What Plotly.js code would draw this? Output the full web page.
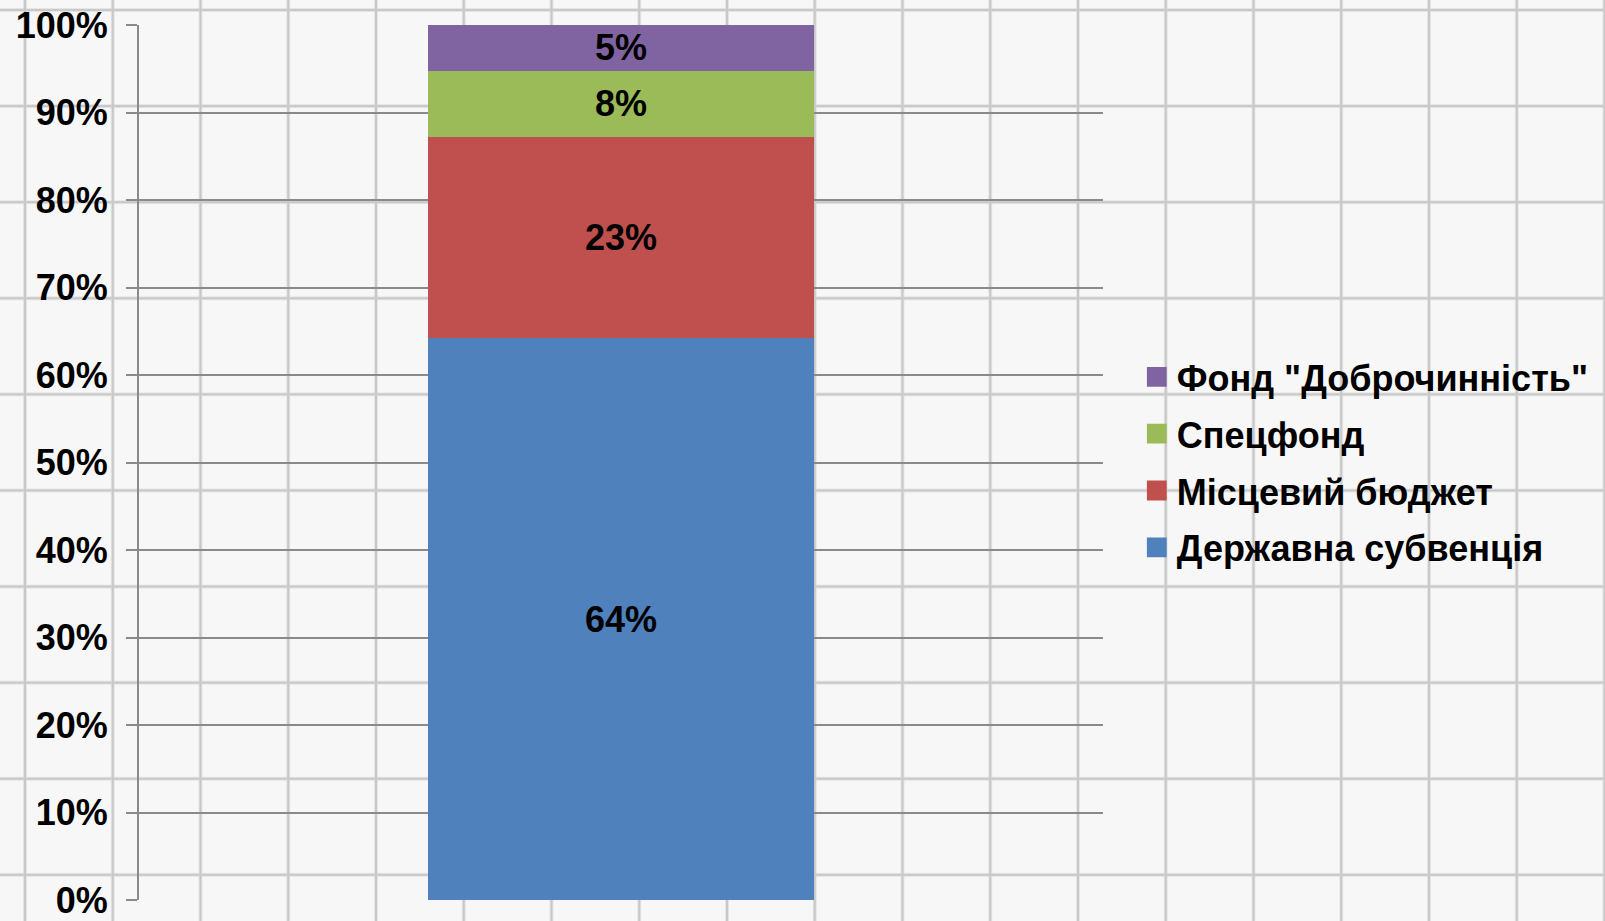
<!DOCTYPE html>
<html>
<head>
<meta charset="utf-8">
<script src="https://cdn.plot.ly/plotly-3.0.1.min.js"></script>
<style>
  html, body { margin: 0; padding: 0; }
  body {
    width: 1605px; height: 921px; overflow: hidden;
    background-color: #f7f7f7;
    background-image:
      linear-gradient(to right, rgba(0,0,0,0) 0px, #d4d4d4 1px, #bcbcbc 2px, #d4d4d4 3px, rgba(0,0,0,0) 4px, rgba(0,0,0,0) 100%),
      linear-gradient(to bottom, rgba(0,0,0,0) 0px, #d4d4d4 1px, #bcbcbc 2px, #d4d4d4 3px, rgba(0,0,0,0) 4px, rgba(0,0,0,0) 100%);
    background-size: 87.76px 100%, 100% 96.1px;
    background-position: 23px 0, 0 8px;
  }
  #chart { width: 1605px; height: 921px; }
</style>
</head>
<body>
<div id="chart"></div>
<script>
// ---- data ----
const category = ['Джерела фінансування'];
const seriesNames = ['Державна субвенція', 'Місцевий бюджет', 'Спецфонд', 'Фонд "Доброчинність"'];
const derzhavnaSubventsiya = [64.2];
const mistsevyiBudzhet = [23.0];
const spetsfond = [7.6];
const fondDobrochynnist = [5.2];
const seriesValues = [derzhavnaSubventsiya, mistsevyiBudzhet, spetsfond, fondDobrochynnist];
const seriesColors = ['#4F81BD', '#C0504D', '#9BBB59', '#8064A2'];
const yTickVals = [0, 10, 20, 30, 40, 50, 60, 70, 80, 90, 100];
const yTickText = ['0%', '10%', '20%', '30%', '40%', '50%', '60%', '70%', '80%', '90%', '100%'];

const FONT = 'Liberation Sans, Arial, Helvetica, sans-serif';

const traces = seriesNames.map((name, i) => ({
  type: 'bar',
  name: name,
  legendgroup: 'g' + i,
  legendrank: 1000 - i,
  x: category,
  y: seriesValues[i],
  marker: { color: seriesColors[i], line: { width: 0 } },
  texttemplate: '%{y:.0f}%',
  textposition: 'inside',
  insidetextanchor: 'middle',
  textangle: 0,
  constraintext: 'none',
  textfont: { family: FONT, size: 36, color: '#000000', weight: 'bold' },
  hoverinfo: 'name+y'
}));

const layout = {
  width: 1605,
  height: 921,
  margin: { l: 139, r: 501, t: 25, b: 21, pad: 0 },
  paper_bgcolor: 'rgba(0,0,0,0)',
  plot_bgcolor: 'rgba(0,0,0,0)',
  barmode: 'stack',
  bargap: 0.6,
  showlegend: true,
  legend: {
    x: 1.034, xanchor: 'left', xref: 'paper',
    y: 0.5, yanchor: 'middle',
    traceorder: 'grouped',
    tracegroupgap: 7,
    bgcolor: 'rgba(0,0,0,0)',
    borderwidth: 0,
    font: { family: FONT, size: 36, color: '#000000', weight: 'bold' }
  },
  xaxis: {
    type: 'category',
    showticklabels: false,
    showgrid: false,
    zeroline: false,
    showline: false,
    ticks: ''
  },
  yaxis: {
    range: [0, 100],
    tickmode: 'array',
    tickvals: yTickVals,
    ticktext: yTickText,
    showgrid: true,
    gridcolor: '#8a8a8a',
    gridwidth: 2,
    zeroline: false,
    showline: true,
    linecolor: '#8a8a8a',
    linewidth: 2,
    ticks: 'outside',
    ticklen: 11,
    tickwidth: 2,
    tickcolor: '#8a8a8a',
    ticklabelstandoff: 11,
    tickfont: { family: FONT, size: 36, color: '#000000', weight: 'bold' }
  }
};

Plotly.newPlot('chart', traces, layout, { displayModeBar: false, staticPlot: true }).then(function () {
  document.querySelectorAll('#chart .legendpoints path').forEach(function (p) {
    const t = p.getAttribute('transform') || '';
    p.setAttribute('transform', t + ' scale(1.65)');
  });
});
</script>
</body>
</html>
